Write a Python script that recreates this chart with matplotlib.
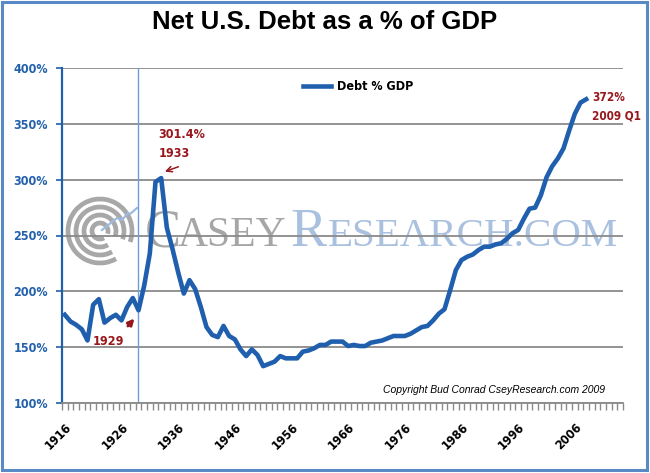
import numpy as np
import matplotlib.pyplot as plt
from matplotlib.patches import Arc, Rectangle

# net debt as % of GDP, one value a year (last point = 2009 Q1)
years = np.arange(1916, 2009)
debt_pct = [179, 173, 170, 166, 156, 188, 193, 172, 176, 179,
            174, 186, 194, 183, 205, 234, 298, 301.4, 257, 238,
            217, 198, 210, 202, 186, 168, 161, 159, 169, 160,
            157, 148, 142, 148, 143, 133, 135, 137, 142, 140,
            140, 140, 146, 147, 149, 152, 152, 155, 155, 155,
            151, 152, 151, 151, 154, 155, 156, 158, 160, 160,
            160, 162, 165, 168, 169, 174, 180, 184, 201, 219,
            228, 231, 233, 237, 240, 240, 242, 243, 247, 252,
            255, 265, 274, 275, 286, 302, 312, 319, 328, 344,
            359, 369, 372]
label_years = np.arange(1916, 2007, 10)
yticks = [100, 150, 200, 250, 300, 350, 400]

narrow = dict(family='DejaVu Sans', stretch='condensed', weight='bold', size=9)
blue = '#1f5fad'
red = '#98171c'

fig = plt.figure(figsize=(6.5, 4.73), dpi=100)
fig.patch.set_facecolor('white')

# background layer in pixel coords: border + watermark logo
bg = fig.add_axes([0, 0, 1, 1], zorder=0)
bg.set_xlim(0, 650)
bg.set_ylim(473, 0)
bg.axis('off')
bg.add_patch(Rectangle((2, 2), 645, 468, fill=False, ec='#5a8ac6', lw=2.2))
for r in [8, 16, 24, 32]:
    bg.add_patch(Arc((100, 231), 2 * r, 2 * r, theta1=60, theta2=380,
                     color='#a8a8a8', lw=3.4))
bg.plot([102, 117, 122, 128, 130, 137], [230, 218, 220, 213, 214, 208],
        color='#9dbbe0', lw=1.6)
bg.text(145, 246, 'C', fontsize=39, family='Liberation Serif', color='#a6a6a6')
bg.text(178, 246, 'ASEY', fontsize=30, family='Liberation Serif', color='#a6a6a6')
bg.text(290, 246, 'R', fontsize=39, family='Liberation Serif', color='#a9c0df')
bg.text(328, 246, 'ESEARCH.COM', fontsize=29.5, family='Liberation Serif', color='#a9c0df')

ax = fig.add_axes([62 / 650, 1 - 403 / 473, 561 / 650, 335 / 473], zorder=1)
ax.set_facecolor('none')

ax.plot(years, debt_pct, color=blue, lw=3.3, solid_joinstyle='round',
        label='Debt % GDP', zorder=4)
ax.axvline(1929, color='#6d9fd6', lw=1, zorder=2)

ax.set_xlim(1915.5, 2014.5)
ax.set_ylim(100, 400)
ax.set_yticks(yticks)
ax.set_yticklabels([f'{v}%' for v in yticks], color='#2461ad', **narrow)
ax.yaxis.grid(True, color='#8a8a8a', lw=1.3)
ax.tick_params(axis='y', direction='out', length=4, width=1.2, color=blue, pad=6)

ax.set_xticks(label_years)
ax.set_xticklabels([str(y) for y in label_years], rotation=45, ha='right',
                   va='top', rotation_mode='anchor', **narrow)
ax.set_xticks(np.arange(1915.5, 2015, 1), minor=True)
ax.tick_params(axis='x', which='major', length=0, pad=13)
ax.tick_params(axis='x', which='minor', direction='out', length=5, width=1,
               color='#8a8a8a')

for s in ['top', 'right']:
    ax.spines[s].set_visible(False)
ax.spines['left'].set_color(blue)
ax.spines['left'].set_linewidth(1.6)
ax.spines['bottom'].set_color('#8a8a8a')
ax.spines['bottom'].set_linewidth(1.3)

# annotations
peak_i = int(np.argmax(debt_pct[:30]))
peak_yr, peak_v = years[peak_i], debt_pct[peak_i]
ax.text(peak_yr - 0.5, peak_v + 45, f'{peak_v}%\n{peak_yr}', color=red,
        va='top', ha='left', linespacing=1.6, **narrow)
ax.annotate('', xy=(peak_yr + 0.2, peak_v + 5), xytext=(peak_yr + 3.5, peak_v + 11),
            arrowprops=dict(arrowstyle='->', color=red, lw=1.1))
ax.text(1920.9, 155.5, '1929', color=red, va='center', ha='left', **narrow)
ax.annotate('', xy=(1928.6, 177.5), xytext=(1926.8, 167),
            arrowprops=dict(arrowstyle='-|>', color=red, lw=2, mutation_scale=9))
end_font = dict(narrow, size=8.5)
ax.text(2009.1, 374, f'{debt_pct[-1]:g}%', color=red, va='center', ha='left', **end_font)
ax.text(2009.1, 357, '2009 Q1', color=red, va='center', ha='left', **end_font)
ax.text(0.968, 0.04, 'Copyright Bud Conrad CseyResearch.com 2009', transform=ax.transAxes,
        fontsize=7.5, style='italic', family='Liberation Sans', ha='right',
        va='center')

ax.legend(loc='center left', bbox_to_anchor=(303 / 650, 1 - 87 / 473),
          bbox_transform=fig.transFigure, frameon=False, handlelength=2.2,
          handletextpad=0.5, borderpad=0, borderaxespad=0,
          prop=narrow)

fig.text(0.5, 1 - 22 / 473, 'Net U.S. Debt as a % of GDP', ha='center',
         va='center', fontsize=18.5, fontweight='bold', family='Liberation Sans')

fig.savefig('out.png', dpi=100)
